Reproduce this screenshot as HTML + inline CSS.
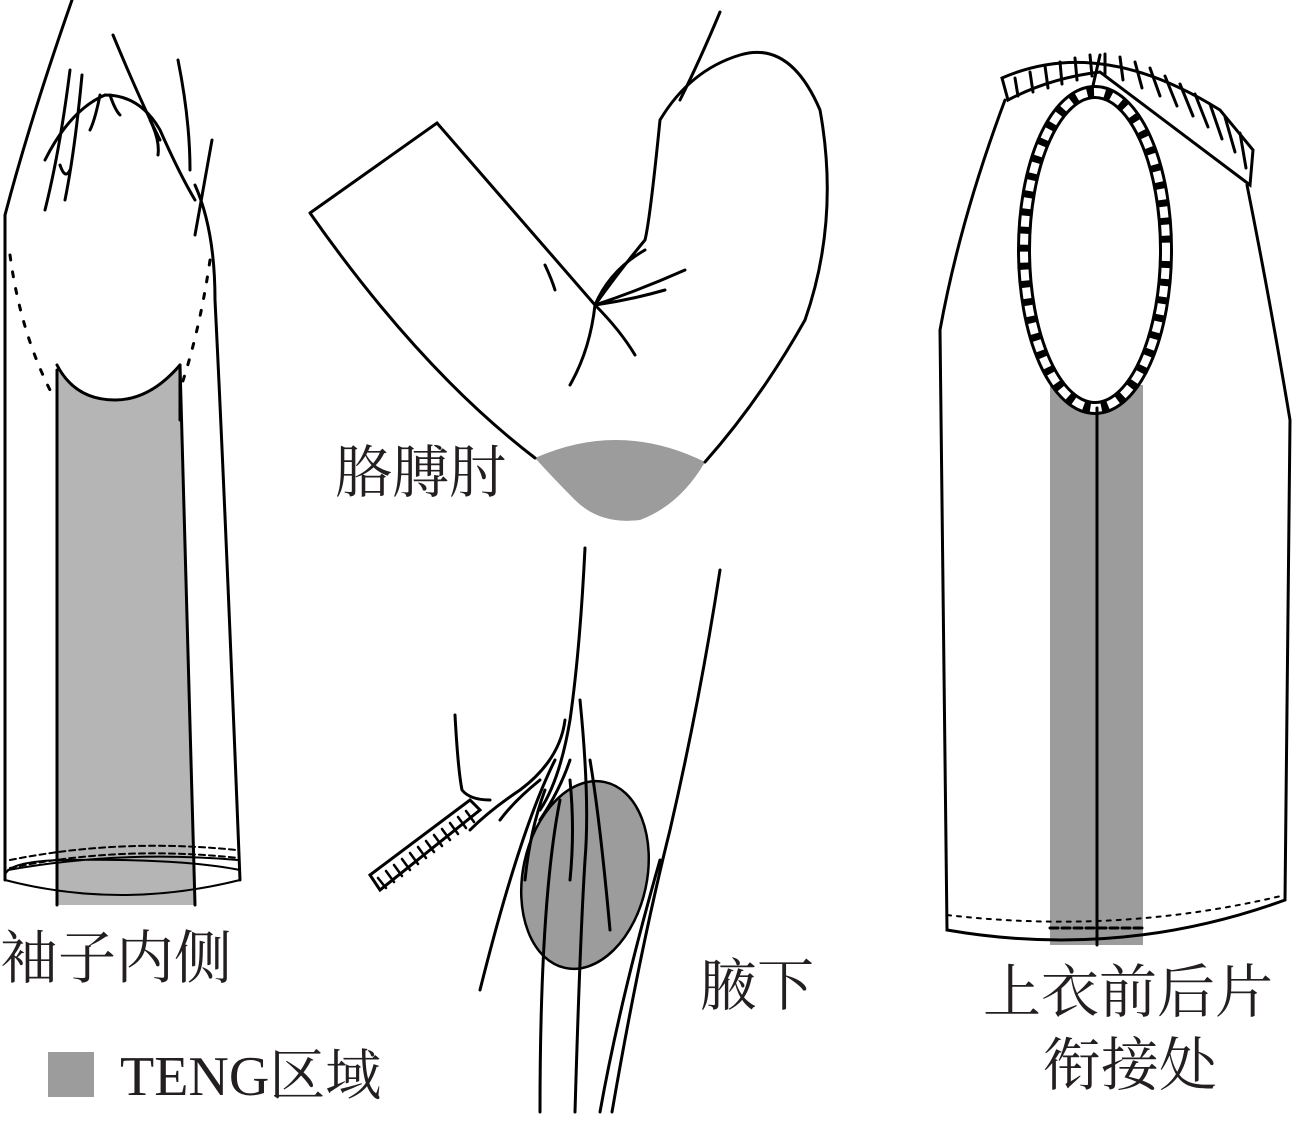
<!DOCTYPE html>
<html><head><meta charset="utf-8"><style>
html,body{margin:0;padding:0;background:#fff;}
svg{display:block}
text{font-family:"Liberation Serif","Noto Serif CJK SC",serif;fill:#231f20}
</style></head><body>
<svg width="1299" height="1122" viewBox="0 0 1299 1122" xmlns="http://www.w3.org/2000/svg">
<g fill="none" stroke="#000" stroke-width="3" stroke-linecap="round">
<!-- Left sleeve -->
<path d="M57,420 L57,905 L195,905 L180,420 L180,365 Q150,400 115,400 Q75,400 57,365 Z" fill="#b5b5b5" stroke="none"/>
<path d="M57,365 Q75,400 115,400 Q150,400 180,365"/>
<path d="M57,370 L57,905 M180,420 L180,365 M180,365 L195,905"/>
<path d="M72,0 Q30,120 5,215 L5,880"/>
<path d="M195,185 Q215,230 215,300 Q225,500 240,880"/>
<path d="M5,880 Q120,910 240,880 M5,880 Q0,862 60,860 Q180,858 240,870 M8,870 Q120,850 238,860" stroke-width="2"/>
<path d="M10,868 Q120,845 238,858" stroke-dasharray="6,4" stroke-width="2"/>
<path d="M10,860 Q120,838 236,850" stroke-dasharray="6,4" stroke-width="2"/>
<path d="M10,255 Q20,330 50,390 M210,260 Q200,330 180,390" stroke-dasharray="5,12" stroke-width="3"/>
<path d="M45,160 Q70,110 105,95 Q140,95 160,130 Q180,175 195,200"/>
<path d="M70,70 Q60,150 45,210 M82,75 Q75,150 65,200 M113,35 Q140,100 160,140 M178,60 Q190,120 190,170 M212,140 Q205,180 195,235 M60,165 Q65,180 70,170 M100,95 Q95,120 90,130 M110,95 Q115,110 120,115 M150,120 Q160,140 158,155"/>
<!-- Elbow -->
<path d="M535,458 Q620,420 705,462 Q680,505 640,520 Q600,525 575,500 Q555,480 535,458 Z" fill="#9c9c9c" stroke="none"/>
<path d="M310,213 L437,123 L595,305 M310,213 Q420,370 535,458"/>
<path d="M705,462 Q760,400 805,320 Q840,220 820,110 Q790,40 740,55 Q690,70 660,120 Q650,220 645,240 Q620,270 595,305"/>
<path d="M720,12 Q700,60 680,100 M595,305 Q590,350 570,385 M595,305 Q620,330 635,355 M595,305 Q640,290 685,270 M595,305 Q630,300 665,290 M595,305 Q610,270 645,250 M545,265 Q552,280 555,290"/>
<!-- Armpit -->
<ellipse cx="585" cy="875" rx="62" ry="95" transform="rotate(12 585 875)" fill="#9c9c9c" stroke-width="2.5"/>
<path d="M585,548 Q580,650 570,720 Q560,780 540,810 M720,570 Q700,700 670,830 Q640,950 612,1112 M660,860 Q620,1000 600,1112 M455,715 Q458,770 462,790 Q470,800 490,800"/>
<path d="M565,720 Q560,760 520,790 Q490,810 470,830 M570,760 Q560,790 540,820 M580,700 Q590,800 585,860 Q580,940 575,1112 M590,760 Q600,820 610,930 M560,800 Q540,900 540,1112 M555,760 Q520,830 480,990 M545,790 Q530,830 525,880 M540,780 Q515,800 500,820 M570,780 Q575,830 570,880"/>
<path d="M370,875 L470,800 L480,810 L380,890 Z" fill="#fff"/>
<path d="M378,878 L386,888 M386,871 L394,882 M394,865 L402,876 M402,859 L410,870 M410,853 L418,864 M418,847 L426,858 M426,841 L434,852 M434,835 L442,846 M442,829 L450,840 M450,823 L458,834 M458,817 L466,828 M466,811 L474,822" stroke-width="2.5"/>
<!-- Vest -->
<rect x="1050" y="385" width="93" height="560" fill="#9c9c9c" stroke="none"/>
<path d="M1005,100 Q960,220 940,330 L947,930 Q1120,960 1285,900 L1290,420 Q1270,300 1247,185"/>
<path d="M1008,100 L1002,78 Q1100,35 1220,110 L1253,150 L1250,185 Q1170,125 1100,72 Q1050,78 1008,100 Z" fill="#fff"/>
<path d="M1015,78 L1018,96 M1030,72 L1033,92 M1045,66 L1048,88 M1060,62 L1062,84 M1075,58 L1077,80 M1090,55 L1092,76 M1105,54 L1105,74 M1120,57 L1123,80 M1135,62 L1142,88 M1150,68 L1160,96 M1165,76 L1177,106 M1180,84 L1193,116 M1195,94 L1208,127 M1210,104 L1222,139 M1225,117 L1235,152 M1240,133 L1246,168" stroke-width="3"/>
<path d="M1100,55 L1092,90"/>
<ellipse cx="1095" cy="250" rx="71" ry="158" stroke-width="14" fill="#fff"/>
<ellipse cx="1095" cy="250" rx="71" ry="158" stroke-width="8" stroke="#fff" stroke-dasharray="11,7" stroke-linecap="butt"/>
<path d="M1097,408 L1097,945" stroke-width="3"/>
<path d="M947,915 Q1120,935 1285,895" stroke-dasharray="4,6" stroke-width="2"/>
<path d="M1050,928 L1143,928" stroke-dasharray="8,4" stroke-width="3"/>
</g>
<text x="0" y="978" font-size="58">袖子内侧</text>
<text x="335" y="492" font-size="57">胳膊肘</text>
<text x="700" y="1005" font-size="57">腋下</text>
<text x="983" y="1012" font-size="58">上衣前后片</text>
<text x="1043" y="1085" font-size="58">衔接处</text>
<rect x="48" y="1052" width="46" height="45" fill="#9c9c9c"/>
<text x="120" y="1095" font-size="56">TENG区域</text>
</svg>
</body></html>
